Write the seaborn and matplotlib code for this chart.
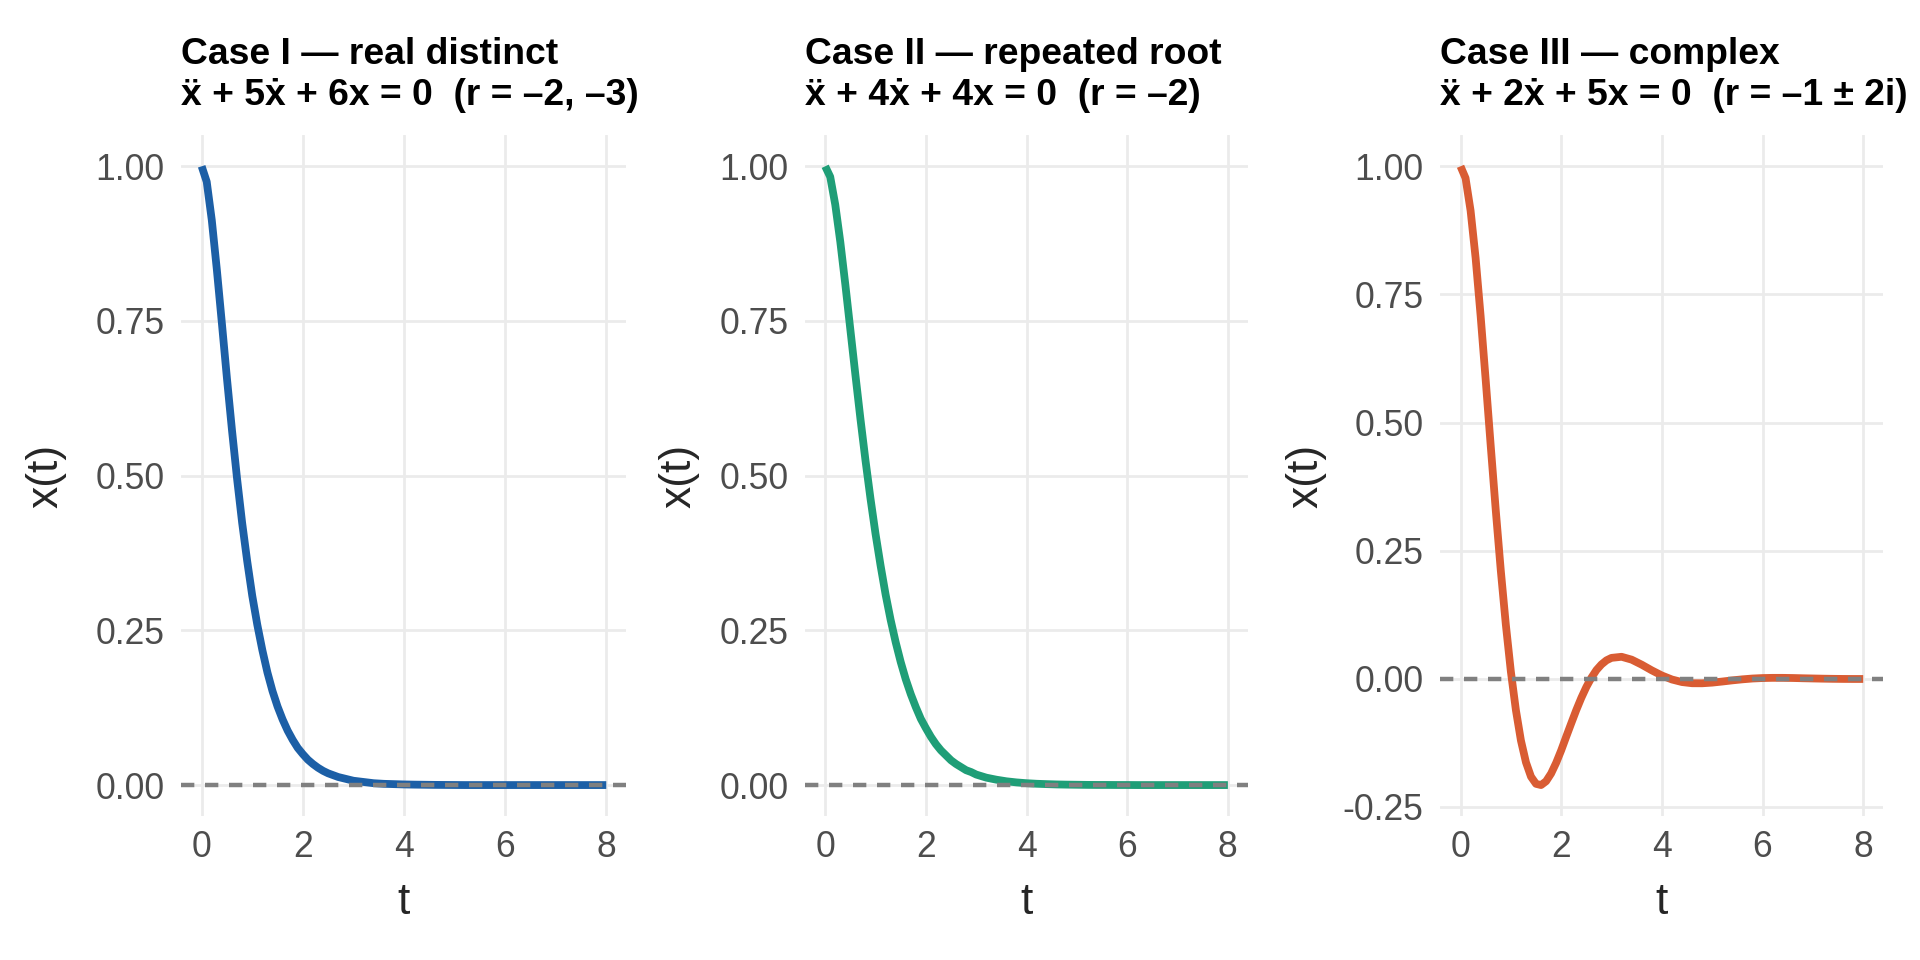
import numpy as np
import pandas as pd
import matplotlib
matplotlib.use("Agg")
import matplotlib.pyplot as plt
import seaborn as sns

# ── Data ─────────────────────────────────────────────────────────────────────
t = [0.0, 0.1, 0.2, 0.3, 0.4, 0.5, 0.6, 0.7, 0.8, 0.9, 1.0, 1.1, 1.2, 1.3, 1.4,
     1.5, 1.6, 1.7, 1.8, 1.9, 2.0, 2.1, 2.2, 2.3, 2.4, 2.5, 2.6, 2.7, 2.8, 2.9,
     3.0, 3.2, 3.4, 3.6, 3.8, 4.0, 4.2, 4.4, 4.6, 4.8, 5.0, 5.2, 5.4, 5.6, 5.8,
     6.0, 6.2, 6.4, 6.6, 6.8, 7.0, 7.2, 7.4, 7.6, 7.8, 8.0]

x_case1 = [1.000, 0.975, 0.913, 0.833, 0.746, 0.657, 0.573, 0.495, 0.424, 0.362,
           0.306, 0.259, 0.218, 0.182, 0.152, 0.127, 0.106, 0.088, 0.073, 0.060,
           0.050, 0.041, 0.034, 0.028, 0.023, 0.019, 0.016, 0.013, 0.011, 0.009,
           0.007, 0.005, 0.003, 0.002, 0.0015, 0.001, 0.0007, 0.0005, 0.0003,
           0.0002, 0.0001, 0.0, 0.0, 0.0, 0.0, 0.0, 0.0, 0.0, 0.0, 0.0, 0.0, 0.0,
           0.0, 0.0, 0.0, 0.0]

x_case2 = [1.000, 0.983, 0.938, 0.878, 0.809, 0.736, 0.663, 0.592, 0.525, 0.463,
           0.406, 0.355, 0.308, 0.267, 0.231, 0.199, 0.171, 0.147, 0.126, 0.107,
           0.092, 0.078, 0.066, 0.056, 0.048, 0.040, 0.034, 0.029, 0.024, 0.021,
           0.017, 0.012, 0.0087, 0.0061, 0.0043, 0.0030, 0.0021, 0.0015, 0.0010,
           0.0007, 0.0005, 0.0003, 0.0002, 0.0002, 0.0001, 0.0001, 0.0, 0.0, 0.0,
           0.0, 0.0, 0.0, 0.0, 0.0, 0.0, 0.0]

x_case3 = [1.000, 0.977, 0.9135, 0.821, 0.7074, 0.583, 0.4546, 0.329, 0.2114,
           0.106, 0.0142, -0.061, -0.1204, -0.163, -0.1910, -0.205, -0.2074,
           -0.200, -0.1848, -0.164, -0.1397, -0.113, -0.0868, -0.061, -0.0372,
           -0.016, 0.0020, 0.017, 0.0280, 0.036, 0.0408, 0.0429, 0.0373, 0.0275,
           0.0164, 0.0064, -0.0014, -0.0064, -0.0087, -0.0088, -0.0075, -0.0054,
           -0.0031, -0.0011, 0.0005, 0.0014, 0.0018, 0.0018, 0.0015, 0.0010,
           0.0006, 0.0002, -0.0001, -0.0003, -0.0004, -0.0004]

titles = [
    "Case I \u2014 real distinct\n\u1e8d + 5\u1e8b + 6x = 0  (r = \u20132, \u20133)",
    "Case II \u2014 repeated root\n\u1e8d + 4\u1e8b + 4x = 0  (r = \u20132)",
    "Case III \u2014 complex\n\u1e8d + 2\u1e8b + 5x = 0  (r = \u20131 \u00b1 2i)",
]
series = [x_case1, x_case2, x_case3]
yticks = [[0.0, 0.25, 0.5, 0.75, 1.0],
          [0.0, 0.25, 0.5, 0.75, 1.0],
          [-0.25, 0.0, 0.25, 0.5, 0.75, 1.0]]
xticks = [0, 2, 4, 6, 8]

# ── Style ─────────────────────────────────────────────────────────────────────
sns.set_theme(style="white")
plt.rcParams["font.family"] = ["Liberation Sans", "DejaVu Sans"]
COLORS = ["#1c5fa6", "#1f9e77", "#d95c33"]

fig = plt.figure(figsize=(9.6, 4.8), dpi=200)
rects = [
    [0.0945, 0.150, 0.2318, 0.709],
    [0.4193, 0.150, 0.2307, 0.709],
    [0.7502, 0.150, 0.2307, 0.709],
]
ylabel_pads = [10.5, 7, 6]

for i in range(3):
    ax = fig.add_axes(rects[i])
    df = pd.DataFrame({"t": t, "x": series[i]})
    sns.lineplot(data=df, x="t", y="x", ax=ax, color=COLORS[i], linewidth=2.8,
                 solid_capstyle="butt", solid_joinstyle="round", zorder=3)
    ax.axhline(0, color="#808080", linewidth=1.6, linestyle=(0, (3.0, 2.4)), zorder=4)
    ax.set_xlim(-0.4, 8.4)
    ymin = min(series[i])
    ymax = max(series[i])
    pad = (ymax - ymin) * 0.05
    ax.set_ylim(ymin - pad, ymax + pad)
    ax.set_xticks(xticks)
    ax.set_yticks(yticks[i])
    ax.set_yticklabels([f"{v:.2f}" for v in yticks[i]])
    ax.grid(True, color="#EBEBEB", linewidth=1.0)
    ax.set_axisbelow(True)
    for s in ax.spines.values():
        s.set_visible(False)
    ax.tick_params(axis="both", length=0, labelsize=12.8, labelcolor="#4D4D4D")
    ax.tick_params(axis="x", pad=5)
    ax.tick_params(axis="y", pad=6)
    ax.set_xlabel("t", fontsize=16, labelpad=6)
    ax.set_ylabel("x(t)", fontsize=16, labelpad=ylabel_pads[i])
    ax.set_title(titles[i], loc="left", fontsize=13.4, fontweight="bold",
                 linespacing=1.2, pad=11, color="black")

plt.savefig("out.png", dpi=200)
plt.close()
